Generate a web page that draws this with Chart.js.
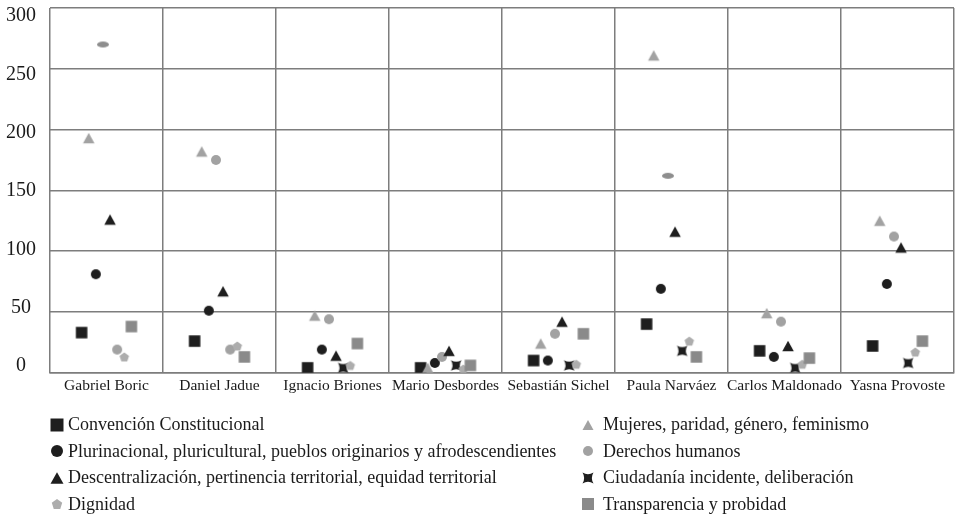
<!DOCTYPE html>
<html lang="es">
<head>
<meta charset="utf-8">
<title>Temas por candidato</title>
<script src="https://cdn.jsdelivr.net/npm/chart.js@4.4.1/dist/chart.umd.min.js"></script>
<style>
  body { margin: 0; background: #fff; font-family: "Liberation Serif", serif; color: #1a1a1a; }
  #wrap { position: relative; width: 955px; height: 516px; }
  #grafico { position: absolute; left: 0; top: 0; width: 955px; height: 400px; }
  .leyenda { position: absolute; top: 411.5px; font-size: 18px; }
  .item { height: 26.5px; display: flex; align-items: center; white-space: nowrap; }
  .item canvas { flex: none; }
</style>
</head>
<body>
<div id="wrap">
  <div id="grafico"><canvas id="myChart"></canvas></div>
  <div class="leyenda" id="leyIzq" style="left:48.5px"></div>
  <div class="leyenda" id="leyDer" style="left:579.5px"></div>
</div>
<script>
const candidatos = ['Gabriel Boric', 'Daniel Jadue', 'Ignacio Briones', 'Mario Desbordes',
    'Sebastián Sichel', 'Paula Narváez', 'Carlos Maldonado', 'Yasna Provoste'];

const convencion        = [33, 26, 4, 4, 10, 40, 18, 22];
const mujeres           = [193, 182, 47, 4, 24, 261, 49, 125];
const plurinacional     = [81, 51, 19, 8, 10, 69, 13, 73];
const derechos          = [270, 175, 44, 13, 32, 162, 42, 112];
const descentralizacion = [126, 67, 14, 18, 42, 116, 22, 103];
const ciudadania        = [19, 19, 4, 6, 6, 18, 4, 8];
const dignidad          = [13, 22, 6, 3, 7, 26, 7, 17];
const transparencia     = [38, 13, 24, 6, 32, 13, 12, 26];

const yTicks = [0, 50, 100, 150, 200, 250, 300];

// colores
const negro = '#1e1e1e';
const grisClaro = '#a2a2a2';
const grisMedio = '#8a8a8a';
const grisPent = '#adadad';
const lineas = '#7d7d7d';

// en el original algunos puntos salen con otro marcador
const ciudadaniaComoCirculo = [0, 1];
const derechosComoElipse = [0, 5];

function dibujar(ctx, tipo, color, t) {
    const a = t / 2;
    ctx.fillStyle = color;
    ctx.beginPath();
    if (tipo === 'cuadrado') {
        ctx.rect(-a, -a, t, t);
    } else if (tipo === 'circulo') {
        ctx.arc(0, 0, a, 0, 2 * Math.PI);
    } else if (tipo === 'elipse') {
        ctx.ellipse(0, 0, a, a / 2, 0, 0, 2 * Math.PI);
    } else if (tipo === 'triangulo') {
        const h = t * 0.9;
        ctx.moveTo(0, -h / 2);
        ctx.lineTo(a, h / 2);
        ctx.lineTo(-a, h / 2);
        ctx.closePath();
    } else if (tipo === 'pentagono') {
        for (let i = 0; i < 5; i++) {
            const ang = -Math.PI / 2 + i * 2 * Math.PI / 5;
            const px = Math.cos(ang) * a, py = Math.sin(ang) * a + a * 0.1;
            if (i === 0) ctx.moveTo(px, py); else ctx.lineTo(px, py);
        }
        ctx.closePath();
    } else if (tipo === 'estrella') {
        const c = a * 0.4;
        ctx.moveTo(-a, -a);
        ctx.quadraticCurveTo(0, -c, a, -a);
        ctx.quadraticCurveTo(c, 0, a, a);
        ctx.quadraticCurveTo(0, c, -a, a);
        ctx.quadraticCurveTo(-c, 0, -a, -a);
        ctx.closePath();
    }
    ctx.fill();
}

function crearMarcador(tipo, color, t, lado) {
    const c = document.createElement('canvas');
    const s = lado || Math.ceil(t) + 2;
    c.width = s;
    c.height = s;
    const ctx = c.getContext('2d');
    ctx.translate(s / 2, s / 2);
    dibujar(ctx, tipo, color, t);
    return c;
}

const series = [
    { nombre: 'Convención Constitucional', datos: convencion, tipo: 'cuadrado', color: negro, t: 11.5, tl: 13 },
    { nombre: 'Mujeres, paridad, género, feminismo', datos: mujeres, tipo: 'triangulo', color: grisClaro, t: 11.5, tl: 11 },
    { nombre: 'Plurinacional, pluricultural, pueblos originarios y afrodescendientes', datos: plurinacional, tipo: 'circulo', color: negro, t: 10, tl: 12 },
    { nombre: 'Derechos humanos', datos: derechos, tipo: 'circulo', color: grisClaro, t: 10, tl: 10 },
    { nombre: 'Descentralización, pertinencia territorial, equidad territorial', datos: descentralizacion, tipo: 'triangulo', color: negro, t: 11.5, tl: 13 },
    { nombre: 'Ciudadanía incidente, deliberación', datos: ciudadania, tipo: 'estrella', color: negro, t: 10.5, tl: 11 },
    { nombre: 'Dignidad', datos: dignidad, tipo: 'pentagono', color: grisPent, t: 10, tl: 11 },
    { nombre: 'Transparencia y probidad', datos: transparencia, tipo: 'cuadrado', color: grisMedio, t: 11.5, tl: 12 }
];

const paso = 0.063; // separación entre series dentro de cada candidato

const circuloGris = crearMarcador('circulo', grisClaro, 10);
const elipseGris = crearMarcador('elipse', '#8e8e8e', 12);

const datasets = series.map((s, k) => {
    const marcador = crearMarcador(s.tipo, s.color, s.t);
    return {
        label: s.nombre,
        data: s.datos.map((v, i) => ({ x: i + 0.5 + (k - 3.5) * paso, y: v })),
        xAxisID: 'x',
        yAxisID: 'y',
        order: series.length - k,
        pointRadius: 6,
        pointStyle: function(ctx) {
            if (k === 5 && ciudadaniaComoCirculo.includes(ctx.dataIndex)) return circuloGris;
            if (k === 3 && derechosComoElipse.includes(ctx.dataIndex)) return elipseGris;
            return marcador;
        }
    };
});

const ctx = document.getElementById('myChart').getContext('2d');
const myChart = new Chart(ctx, {
    type: 'scatter',
    data: { datasets: datasets },
    options: {
        responsive: true,
        maintainAspectRatio: false,
        animation: false,
        events: [],
        layout: { autoPadding: false, padding: { top: 0, right: 0, bottom: 0.5, left: 0 } },
        plugins: {
            legend: { display: false },
            tooltip: { enabled: false }
        },
        scales: {
            x: {
                type: 'linear',
                min: 0,
                max: candidatos.length,
                grid: {
                    drawTicks: false,
                    lineWidth: 1.5,
                    color: c => (c.tick && Number.isInteger(c.tick.value)) ? lineas : 'rgba(0,0,0,0)'
                },
                border: { display: true, color: lineas, width: 1.5 },
                ticks: {
                    stepSize: 0.5,
                    autoSkip: false,
                    maxRotation: 0,
                    minRotation: 0,
                    padding: 1,
                    color: '#1a1a1a',
                    font: { family: 'Liberation Serif', size: 15.5, lineHeight: 1.6 },
                    callback: v => (v % 1 === 0.5) ? candidatos[Math.floor(v)] : ''
                }
            },
            // eje solo para las etiquetas: en el original quedan algo desplazadas de las líneas
            etiquetas: {
                type: 'linear',
                position: 'left',
                weight: 1,
                min: -5.74,
                max: 306.86,
                afterBuildTicks: s => { s.ticks = yTicks.map(v => ({ value: v })); },
                afterFit: s => { s.width = 36; },
                grid: { display: false, drawTicks: false },
                border: { display: false },
                ticks: {
                    crossAlign: 'center',
                    padding: 0,
                    color: '#1a1a1a',
                    font: { family: 'Liberation Serif', size: 20, lineHeight: 0.8 }
                }
            },
            y: {
                position: 'left',
                weight: 0,
                min: yTicks[0],
                max: yTicks[yTicks.length - 1],
                afterFit: s => { s.width = 14; },
                grid: { drawTicks: false, lineWidth: 1.5, color: lineas },
                border: { display: false },
                ticks: { display: false, stepSize: 50 }
            }
        }
    }
});

// leyenda en dos columnas, como en el original
function itemLeyenda(s, margen) {
    const div = document.createElement('div');
    div.className = 'item';
    const icono = crearMarcador(s.tipo, s.color, s.tl, 16);
    const txt = document.createElement('span');
    txt.textContent = s.nombre;
    txt.style.marginLeft = margen;
    div.appendChild(icono);
    div.appendChild(txt);
    return div;
}
series.forEach((s, k) => {
    const col = document.getElementById(k % 2 === 0 ? 'leyIzq' : 'leyDer');
    col.appendChild(itemLeyenda(s, k % 2 === 0 ? '3.5px' : '7.5px'));
});
</script>
</body>
</html>
